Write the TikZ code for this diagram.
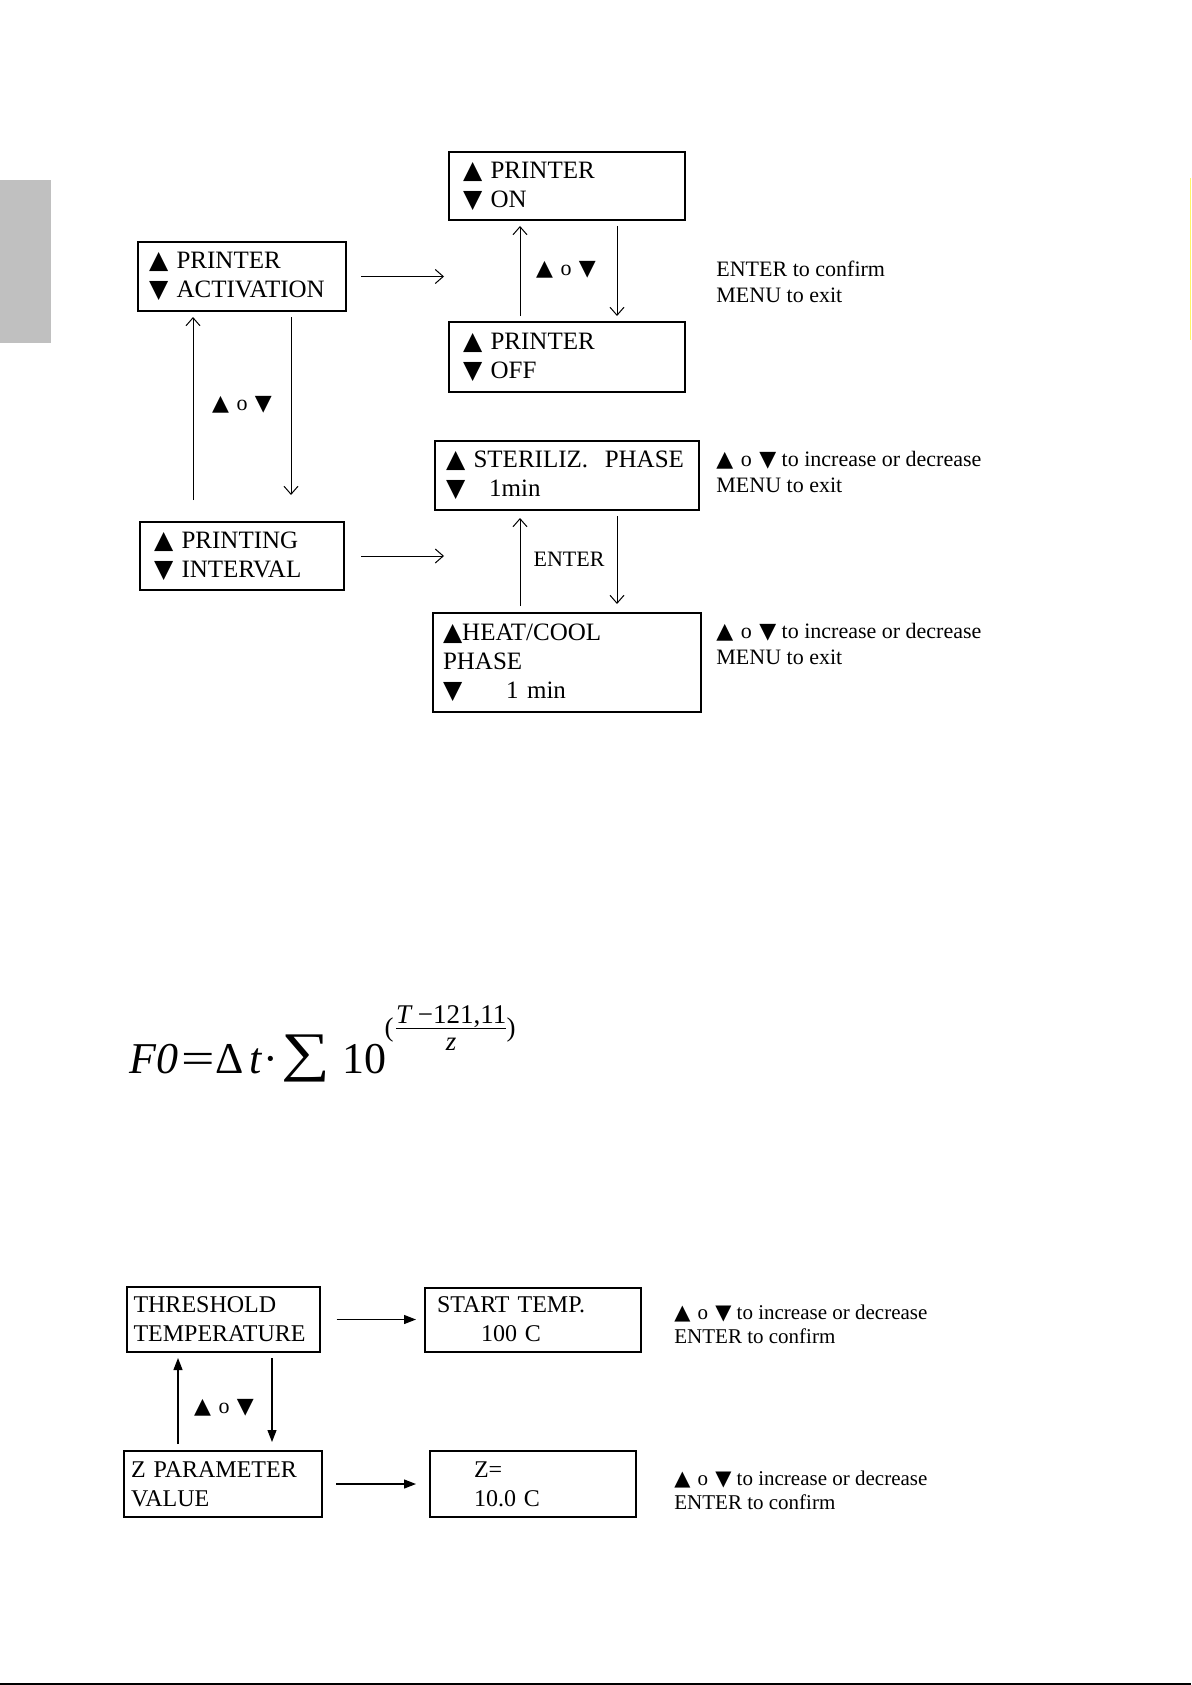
\documentclass[tikz,border=0pt]{standalone}
\usepackage{fontspec}
\setmainfont{Liberation Serif}
\newfontfamily\trifont{DejaVu Sans}
\usetikzlibrary{arrows.meta}
\definecolor{tabgray}{HTML}{C0C0C0}
\newcommand{\boxfont}{\fontsize{12.5}{14.5}\selectfont}
\newcommand{\notefont}{\fontsize{11}{13}\selectfont}
\newcommand{\lowfont}{\fontsize{12}{14.5}\selectfont}
\newcommand{\lownote}{\fontsize{10.5}{12}\selectfont}
\newcommand{\tup}{{\trifont ▲}}
\newcommand{\tdn}{{\trifont ▼}}
\newcommand{\upordown}{\tup\hspace{0.34em}o\hspace{0.34em}\tdn}

\begin{document}
\begin{tikzpicture}[x=0.5pt,y=-0.5pt,
box/.style={draw,line width=1pt,align=left,inner xsep=6pt,inner ysep=0pt,font=\boxfont},
note/.style={anchor=west,align=left,inner sep=0pt,font=\notefont},
lbl/.style={inner sep=0pt,font=\notefont},
arr/.style={-{Straight Barb[length=4pt,width=7pt]},line width=0.5pt},
tri/.style={-{Triangle[length=6pt,width=4.5pt]},line width=0.6pt}]
\useasboundingbox (0,0) rectangle (1191,1685);
\fill[tabgray] (0,180) rectangle (51,343);
\draw[yellow!60,line width=0.4pt] (1190.5,178) -- (1190.5,340);
\draw[line width=1pt] (0,1684) -- (1191,1684);

% printer menu
\node[box,text width=104pt,minimum height=34pt,inner xsep=7pt] (on) at (567,186) {\tup{} PRINTER\\\tdn{} ON};
\node[box,text width=104pt,minimum height=35pt,inner xsep=7pt] (off) at (567,357) {\tup{} PRINTER\\\tdn{} OFF};
\node[box,text width=93pt,minimum height=34.5pt,inner xsep=5.5pt] (act) at (242,276.5) {\tup{} PRINTER\\\tdn{} ACTIVATION};
\node[box,text width=88pt,minimum height=34pt,inner xsep=7pt] (intv) at (242,556) {\tup{} PRINTING\\\tdn{} INTERVAL};
\node[box,text width=121pt,minimum height=34.5pt,inner xsep=5.5pt] (ster) at (567,475.5) {\tup{} STERILIZ.\ \ PHASE\\\tdn\hspace{12pt}1min};
\node[box,text width=124pt,minimum height=49.5pt,inner xsep=5pt] (heat) at (567,662.5) {\tup HEAT/COOL\\PHASE\\\tdn\hspace{22pt}1 min};
\node[note] (onnote) at (716,281.5) {ENTER to confirm\\MENU to exit};
\node[note] (sternote) at (716,471.5) {\upordown{} to increase or decrease\\MENU to exit};
\node[note] (heatnote) at (716,643.5) {\upordown{} to increase or decrease\\MENU to exit};
\node[lbl] (onlbl) at (566,270) {\upordown};
\node[lbl] (actlbl) at (242,405) {\upordown};
\node[lbl] (sterlbl) at (569,559) {ENTER};
\coordinate (actend) at (444,276.5);
\coordinate (intvend) at (444,556);
\draw[arr,shorten <=7pt] (act) -- (actend);
\draw[arr,shorten <=8pt] (intv) -- (intvend);
\draw[arr,shorten <=2.5pt,shorten >=2.5pt] ([xshift=-23.5pt]off.north) -- ([xshift=-23.5pt]on.south);
\draw[arr,shorten <=2.5pt,shorten >=2.5pt] ([xshift=25pt]on.south) -- ([xshift=25pt]off.north);
\draw[arr,shorten <=10.5pt,shorten >=2.5pt] ([xshift=-24.5pt]intv.north) -- ([xshift=-24.5pt]act.south);
\draw[arr,shorten <=2.5pt,shorten >=13pt] ([xshift=24.5pt]act.south) -- ([xshift=24.5pt]intv.north);
\draw[arr,shorten <=3pt,shorten >=3.5pt] ([xshift=-23.5pt]heat.north) -- ([xshift=-23.5pt]ster.south);
\draw[arr,shorten <=2.5pt,shorten >=4pt] ([xshift=25pt]ster.south) -- ([xshift=25pt]heat.north);

% F0 formula
\node[anchor=base west,inner sep=0pt,font=\fontsize{22}{26}\selectfont] (fzero) at (129,1073)
  {\textit{F0}\hspace{1.5pt}\scalebox{1.35}[1]{=}\hspace{0.5pt}Δ\hspace{2.5pt}\textit{t}\kern0.5pt·\hspace{2pt}\raisebox{1.5pt}{\scalebox{1.07}[0.85]{\fontsize{32}{32}\selectfont ∑}}\hspace{6pt}10\kern-1pt\raisebox{18.5pt}{\fontsize{13.5}{14}\selectfont($\frac{\mbox{\itshape T \upshape−121,11}}{\mbox{\raisebox{-2.5pt}{\itshape z}}}$\kern-1pt)}};

% threshold menu
\node[box,text width=89.5pt,minimum height=32.5pt,inner xsep=3.5pt,font=\lowfont] (thr) at (223,1319.5) {THRESHOLD\\TEMPERATURE};
\node[box,text width=96pt,minimum height=32pt,inner xsep=6pt,font=\lowfont] (start) at (533,1319.5) {START TEMP.\\\hspace*{22pt}100 C};
\node[box,text width=92pt,minimum height=33pt,inner xsep=3.5pt,font=\lowfont] (zpar) at (223,1484) {Z PARAMETER\\VALUE};
\node[box,text width=91pt,minimum height=33pt,inner xsep=6pt,font=\lowfont] (zval) at (533,1484) {\hspace*{16pt}Z=\\\hspace*{16pt}10.0 C};
\node[note,font=\lownote] (startnote) at (674,1324) {\upordown{} to increase or decrease\\ENTER to confirm};
\node[note,font=\lownote] (zvalnote) at (674,1490) {\upordown{} to increase or decrease\\ENTER to confirm};
\node[lbl] (thrlbl) at (224,1408) {\upordown};
\draw[tri,shorten <=8pt,shorten >=4pt] (thr) -- (start);
\draw[tri,shorten <=6.5pt,shorten >=6.5pt] (zpar) -- (zval);
\draw[tri,shorten <=3pt,shorten >=2.5pt] ([xshift=-22.5pt]zpar.north) -- ([xshift=-22.5pt]thr.south);
\draw[tri,shorten <=2.5pt,shorten >=4pt] ([xshift=24.5pt]thr.south) -- ([xshift=24.5pt]zpar.north);
\end{tikzpicture}
\end{document}
